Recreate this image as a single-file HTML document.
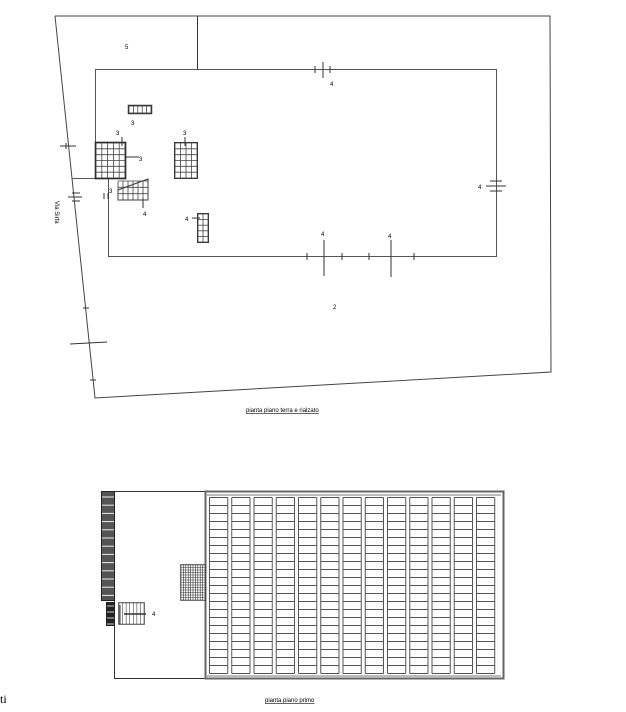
<!DOCTYPE html>
<html><head><meta charset="utf-8"><style>
html,body{margin:0;padding:0;background:#fff;width:626px;height:712px;overflow:hidden}
svg{display:block}
text{font-family:"Liberation Sans",sans-serif;font-size:6px;fill:#000}
</style></head><body>
<svg id="s" width="626" height="712" viewBox="0 0 626 712" stroke="#333" fill="none" stroke-width="1">
<!-- top plan -->
<polyline points="55,16 550,16 551,372 95,398 55,16" stroke="#444"/>
<line x1="197.5" y1="16" x2="197.5" y2="69"/>
<polyline points="95.5,178 95.5,69.5 496.5,69.5 496.5,256.5 108.5,256.5 108.5,178.5 72,178.5" stroke="#555"/>
<!-- ticks -->
<g stroke="#333">
<line x1="323" y1="62" x2="323" y2="78"/><line x1="315" y1="66" x2="315" y2="73"/><line x1="330" y1="66" x2="330" y2="73"/>
<line x1="486" y1="186" x2="506" y2="186"/><line x1="490" y1="181" x2="502" y2="181"/><line x1="490" y1="191" x2="502" y2="191"/>
<line x1="324" y1="240" x2="324" y2="276"/><line x1="391" y1="240" x2="391" y2="277"/>
<line x1="307" y1="253" x2="307" y2="260"/><line x1="342" y1="253" x2="342" y2="260"/><line x1="369" y1="253" x2="369" y2="260"/><line x1="414" y1="253" x2="414" y2="260"/>
<line x1="60" y1="146" x2="76" y2="146"/><line x1="66" y1="143" x2="66" y2="149"/>
<line x1="68" y1="197" x2="82" y2="197"/><line x1="72" y1="193" x2="80" y2="193"/><line x1="72" y1="201" x2="80" y2="201"/>
<line x1="83" y1="308" x2="89" y2="308"/>
<line x1="70" y1="344" x2="107" y2="342"/>
<line x1="90" y1="380" x2="96" y2="380"/>
<line x1="104" y1="193" x2="104" y2="199"/><line x1="108" y1="193" x2="108" y2="199"/>
</g>
<!-- stair blocks -->
<rect x="128.5" y="105.5" width="23" height="8" stroke-width="1.5"/>
<rect x="95.5" y="142.5" width="30" height="36" stroke-width="1"/>
<rect x="95.5" y="142.5" width="30" height="36" stroke-width="1.6" stroke="#222" fill="none"/>
<rect x="174.5" y="142.5" width="23" height="36"/>
<polygon points="118,190 148,179 148,200 118,200" />
<rect x="197.5" y="213.5" width="11" height="29"/>
<g id="grids" stroke="#444" stroke-width="0.8"></g>
<line x1="126" y1="157" x2="139" y2="157"/>
<line x1="122" y1="137" x2="122" y2="146"/><line x1="185" y1="137" x2="185" y2="146"/>
<line x1="143" y1="198" x2="143" y2="208"/><line x1="192" y1="218" x2="200" y2="218"/>
<g stroke="none">
<text x="125" y="49">5</text>
<text x="131" y="125">3</text>
<text x="116" y="135">3</text>
<text x="139" y="161">3</text>
<text x="183" y="135">3</text>
<text x="143" y="216">4</text>
<text x="185" y="221">4</text>
<text x="321" y="236">4</text>
<text x="388" y="238">4</text>
<text x="330" y="86">4</text>
<text x="478" y="189">4</text>
<text x="333" y="309">2</text>
<text x="109" y="193">3</text>
<text x="0" y="0" transform="translate(55,201) rotate(90)" font-size="6">Via Sirfa</text>
<text x="246" y="412" text-decoration="underline">pianta piano terra e rialzato</text>
<text x="265" y="702" text-decoration="underline">pianta piano primo</text>
<text x="152" y="616">4</text>
<text x="0" y="703" style="font-family:'Liberation Serif',serif;font-size:12px">ti</text>
</g>
<!-- bottom plan -->
<rect x="114.5" y="491.5" width="91" height="187"/>
<rect x="205.5" y="491.5" width="298" height="187" stroke="#666" stroke-width="2"/>
<rect x="101.5" y="491.5" width="13" height="109" fill="#555" stroke="#222"/>
<rect x="106" y="602" width="9" height="24" fill="#222" stroke="none"/>
<rect x="180.5" y="564.5" width="25" height="36" stroke-width="0.6"/>
<rect x="118.5" y="602.5" width="26" height="22" stroke-width="0.6"/>
<line x1="124" y1="614" x2="146" y2="614" stroke-width="1.5"/>
<line x1="120" y1="605" x2="120" y2="624"/>
</svg>
<script>
var g=document.getElementById('grids'),s=document.getElementById('s');
function L(p,x1,y1,x2,y2,c,w){var l=document.createElementNS('http://www.w3.org/2000/svg','line');l.setAttribute('x1',x1);l.setAttribute('y1',y1);l.setAttribute('x2',x2);l.setAttribute('y2',y2);if(c)l.setAttribute('stroke',c);if(w)l.setAttribute('stroke-width',w);p.appendChild(l);}
function grid(x,y,w,h,nx,ny,c,sw){for(var i=0;i<=nx;i++)L(g,x+w*i/nx,y,x+w*i/nx,y+h,c,sw);for(var j=0;j<=ny;j++)L(g,x,y+h*j/ny,x+w,y+h*j/ny,c,sw);}
grid(96,143,29,35,5,6);
grid(175,143,22,35,4,6);
grid(118,181,30,19,6,3);
grid(198,214,10,28,2,5);
grid(129,106,22,7,5,1);
grid(181,565,24,35,10,14,'#333',0.6);
grid(119,603,25,21,7,1,'#444',0.6);
// dark strip light lines
for(var y=497;y<600;y+=8.2)L(s,102,y,114,y,'#eee',1);
for(var y=606;y<626;y+=6)L(s,107,y,114,y,'#ccc',1);
// big grid
var x0=209.5,cw=22.25,ys=497.5,ye=673.5;
for(var i=0;i<13;i++){var a=x0+i*cw,b=a+cw-4;
 L(s,a,ys,a,ye,'#555',1);L(s,b,ys,b,ye,'#555',1);
 for(var r=0;r<=22;r++){var yy=ys+r*(ye-ys)/22;L(s,a,yy,b,yy,'#555',1);}}
L(s,207,495,501,495,'#777',1);L(s,207,676,501,676,'#777',1);
</script>
</body></html>
